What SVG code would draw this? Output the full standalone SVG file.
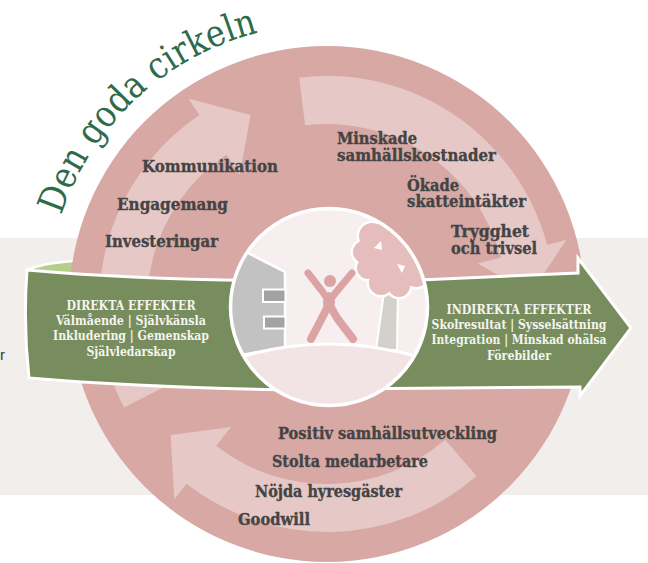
<svg xmlns="http://www.w3.org/2000/svg" width="648" height="563" viewBox="0 0 648 563">
<defs>
<style>
.ring{font-family:"DejaVu Serif","Liberation Serif",serif;font-weight:bold;font-size:16px;fill:#444444;stroke:#444444;stroke-width:0.35}
.gt{font-family:"DejaVu Serif","Liberation Serif",serif;font-weight:bold;font-size:12px;fill:#F4F4EF;text-anchor:middle}
.title{font-family:"DejaVu Serif","Liberation Serif",serif;font-size:37px;fill:#2D6B4B}
.larrow{fill:#E6C8C6}
.green{fill:#778D5D;stroke:#FFFFFF;stroke-width:3;stroke-linejoin:miter}
.crownS{fill:#E5BDBD;stroke:#FFFFFF;stroke-width:5}
.crown{fill:#E5BDBD}
.fig{fill:none;stroke:#DBA3A3;stroke-linecap:round;stroke-linejoin:round}
</style>
<clipPath id="innerClip"><circle cx="329" cy="307" r="98"/></clipPath>
<path id="titlePath" d="M56.5,231.5 A280,280 0 0 1 288,26.7"/>
</defs>

<g id="background">
<rect x="0" y="0" width="648" height="563" fill="#FFFFFF"/>
<rect x="0" y="238" width="648" height="257" fill="#F1EEEB"/>
<text x="0" y="360" font-family="Liberation Sans, Arial, sans-serif" font-size="15" fill="#3A3A3A">r</text>
</g>

<g id="ribbon-back">
<path d="M27,270 C40,264 60,261 110,259 L110,277 C70,275 45,273 27,271 Z" fill="#B3CF8B" stroke="#FFFFFF" stroke-width="2.5"/>
</g>

<g id="ring">
<circle cx="327" cy="304" r="258" fill="#D7A8A4"/>
</g>

<g id="connectors">
<path class="larrow" d="M123.9,407.5 A228,228 0 0 1 199.5,115.0 L188.3,98.4 L250.6,114.9 L239.8,174.7 L226.3,154.8 A180,180 0 0 0 166.6,385.7 Z"/>
<path class="larrow" d="M299.2,77.7 A228,228 0 0 1 547.2,245.0 L566.5,239.8 L530.7,293.3 L477.7,263.6 L500.9,257.4 A180,180 0 0 0 305.1,125.3 Z"/>
<path class="larrow" d="M476.6,476.1 A228,228 0 0 1 186.6,483.7 L174.3,499.4 L170.7,435.1 L231.0,426.9 L216.2,445.8 A180,180 0 0 0 445.1,439.8 Z"/>
</g>

<g id="ring-labels">
<text class="ring" x="142" y="172" textLength="136" lengthAdjust="spacingAndGlyphs">Kommunikation</text>
<text class="ring" x="117" y="210" textLength="111" lengthAdjust="spacingAndGlyphs">Engagemang</text>
<text class="ring" x="105" y="247" textLength="113" lengthAdjust="spacingAndGlyphs">Investeringar</text>
<text class="ring" x="337" y="144" textLength="80" lengthAdjust="spacingAndGlyphs">Minskade</text>
<text class="ring" x="337" y="161" textLength="159" lengthAdjust="spacingAndGlyphs">samhällskostnader</text>
<text class="ring" x="407" y="191" textLength="52" lengthAdjust="spacingAndGlyphs">Ökade</text>
<text class="ring" x="407" y="207" textLength="119" lengthAdjust="spacingAndGlyphs">skatteintäkter</text>
<text class="ring" x="451" y="237" textLength="78" lengthAdjust="spacingAndGlyphs">Trygghet</text>
<text class="ring" x="451" y="254" textLength="86" lengthAdjust="spacingAndGlyphs">och trivsel</text>
<text class="ring" x="278" y="439" textLength="219" lengthAdjust="spacingAndGlyphs">Positiv samhällsutveckling</text>
<text class="ring" x="272" y="467" textLength="156" lengthAdjust="spacingAndGlyphs">Stolta medarbetare</text>
<text class="ring" x="255" y="497" textLength="147" lengthAdjust="spacingAndGlyphs">Nöjda hyresgäster</text>
<text class="ring" x="238" y="525" textLength="72" lengthAdjust="spacingAndGlyphs">Goodwill</text>
</g>

<g id="direkta">
<path class="green" d="M27,270 Q140,280 300,281 L300,390 Q150,388 29,378 Q23,324 27,270 Z"/>
<text class="gt" x="131" y="310" textLength="129" lengthAdjust="spacingAndGlyphs">DIREKTA EFFEKTER</text>
<text class="gt" x="131" y="325" textLength="150" lengthAdjust="spacingAndGlyphs">Välmående | Självkänsla</text>
<text class="gt" x="131" y="340" textLength="156" lengthAdjust="spacingAndGlyphs">Inkludering | Gemenskap</text>
<text class="gt" x="131" y="356" textLength="89" lengthAdjust="spacingAndGlyphs">Självledarskap</text>
</g>

<g id="indirekta">
<path class="green" d="M330,284 L578,273 L578,258 L631,328 L580,396 L580,387 L330,389 Z"/>
<text class="gt" x="519" y="314" textLength="145" lengthAdjust="spacingAndGlyphs">INDIREKTA EFFEKTER</text>
<text class="gt" x="519" y="329" textLength="175" lengthAdjust="spacingAndGlyphs">Skolresultat | Sysselsättning</text>
<text class="gt" x="519" y="344" textLength="175" lengthAdjust="spacingAndGlyphs">Integration | Minskad ohälsa</text>
<text class="gt" x="519" y="360" textLength="64" lengthAdjust="spacingAndGlyphs">Förebilder</text>
</g>

<g id="center">
<circle cx="329" cy="307" r="98" fill="#F7EFEF"/>
<g clip-path="url(#innerClip)">
<polygon points="225,241 285,272 285,347 225,358" fill="#C2C2C2" stroke="#FFFFFF" stroke-width="2.5"/>
<rect x="263" y="289.5" width="22.5" height="12.5" fill="#A3A3A3" stroke="#FFFFFF" stroke-width="2"/>
<rect x="264" y="316.5" width="21.5" height="12" fill="#A3A3A3" stroke="#FFFFFF" stroke-width="2"/>
<polygon points="385,285 398,285 397,350 376,350" fill="#D2D1CB" stroke="#FFFFFF" stroke-width="2"/>
<g>
<circle class="crownS" cx="372" cy="236" r="13"/>
<circle class="crownS" cx="364" cy="252" r="11"/>
<circle class="crownS" cx="368" cy="268" r="11"/>
<circle class="crownS" cx="381" cy="283" r="12"/>
<circle class="crownS" cx="399" cy="286" r="11"/>
<circle class="crownS" cx="387" cy="228" r="10"/>
<circle class="crownS" cx="403" cy="226" r="10"/>
<circle class="crownS" cx="395" cy="256" r="25"/>
<circle class="crownS" cx="416" cy="272" r="15"/>
<circle class="crownS" cx="418" cy="240" r="15"/>
<circle class="crown" cx="372" cy="236" r="13"/>
<circle class="crown" cx="364" cy="252" r="11"/>
<circle class="crown" cx="368" cy="268" r="11"/>
<circle class="crown" cx="381" cy="283" r="12"/>
<circle class="crown" cx="399" cy="286" r="11"/>
<circle class="crown" cx="387" cy="228" r="10"/>
<circle class="crown" cx="403" cy="226" r="10"/>
<circle class="crown" cx="395" cy="256" r="25"/>
<circle class="crown" cx="416" cy="272" r="15"/>
<circle class="crown" cx="418" cy="240" r="15"/>
</g>
<polygon points="374,248 381,241 382,250" fill="#FFFFFF"/>
<polygon points="397,264 405,266 402,273" fill="#FFFFFF"/>
<path class="fig" stroke-width="7" d="M308,273 L322,291 L329,301 L337,291 L352,273"/>
<path class="fig" stroke-width="8" d="M311,339 L322,318 L329,304 L337,318 L353,339"/>
<ellipse cx="329" cy="302" rx="6" ry="10" fill="#DBA3A3"/>
<circle cx="330" cy="281" r="6" fill="#DBA3A3"/>
<path d="M225,362 Q329,326 435,362 L435,420 L225,420 Z" fill="#F2E4E4" stroke="#FFFFFF" stroke-width="3"/>
</g>
<circle cx="329" cy="307" r="98.5" fill="none" stroke="#FFFFFF" stroke-width="3.5"/>
</g>

<g id="title">
<text class="title"><textPath href="#titlePath" startOffset="17" textLength="280" lengthAdjust="spacingAndGlyphs">Den goda cirkeln</textPath></text>
</g>
</svg>
